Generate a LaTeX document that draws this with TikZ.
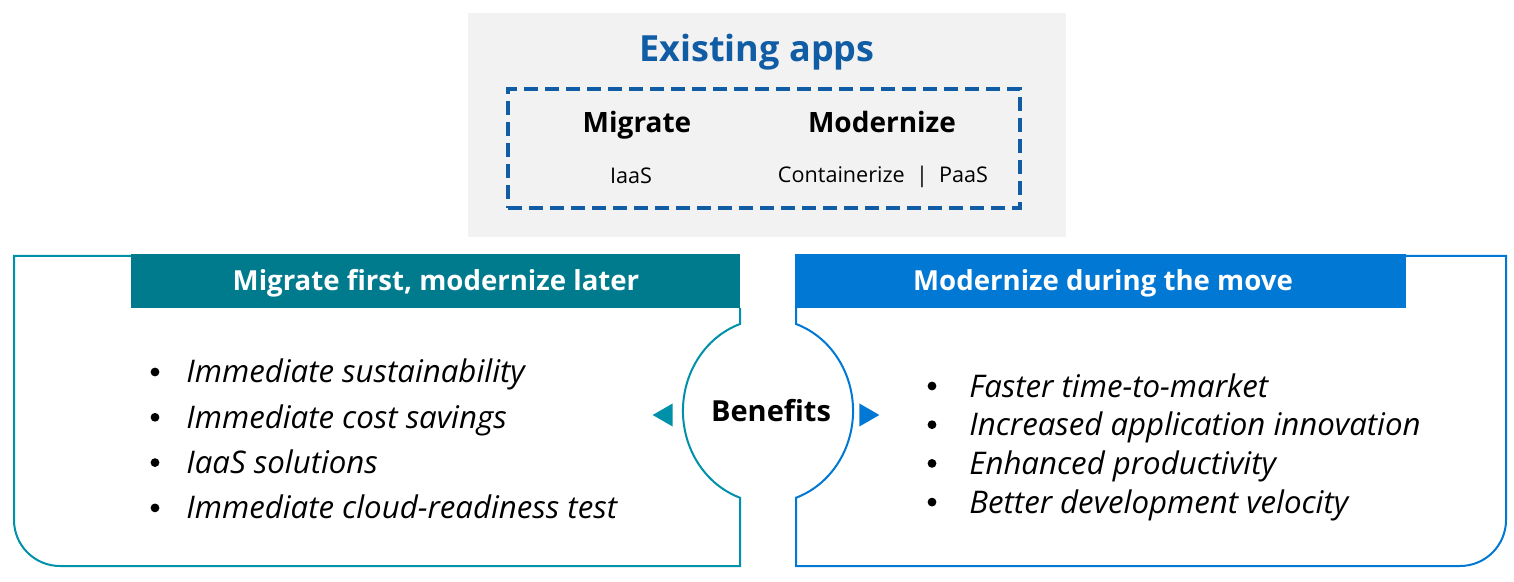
\documentclass[tikz,border=0pt]{standalone}
\usepackage{fontspec}
\setmainfont{Open Sans}
\usetikzlibrary{shapes.geometric}
\definecolor{titleblue}{RGB}{16,92,165}
\definecolor{boxgray}{RGB}{242,242,242}
\definecolor{tealline}{RGB}{0,145,170}
\definecolor{tealfill}{RGB}{0,123,142}
\definecolor{blueline}{RGB}{0,120,212}
\tikzset{
  panelline/.style={line width=1pt},
  headerbar/.style={inner sep=0pt, minimum height=27pt, fill=#1},
  headertext/.style={anchor=base, inner sep=0pt, text=white, font=\fontsize{13.8}{16}\selectfont\bfseries},
  bullettext/.style={anchor=base west, inner sep=0pt, font=\fontsize{15.6}{18}\selectfont\itshape},
  bulletdot/.style={circle, fill=black, inner sep=0pt, minimum size=4.4pt},
  tri/.style={isosceles triangle, isosceles triangle apex angle=60, inner sep=0pt, minimum height=10pt, minimum width=11.5pt, draw=none}
}
\begin{document}
\begin{tikzpicture}[x=0.5pt,y=-0.5pt]
\useasboundingbox (0,0) rectangle (1514,582);
% top box
\node[fill=boxgray, minimum width=299pt, minimum height=112pt, inner sep=0pt] (top) at (767,125) {};
\node[anchor=base, inner sep=0pt, text=titleblue, font=\fontsize{18}{20}\selectfont\bfseries] (title) at (757,62) {Existing apps};
\node[draw=titleblue, line width=1.65pt, dash pattern=on 7pt off 3.5pt, minimum width=256pt, minimum height=59.5pt, inner sep=0pt] (dbox) at (764,148.5) {};
\node[anchor=base, inner sep=0pt, font=\fontsize{14}{16}\selectfont\bfseries] (mig) at (637,133) {Migrate};
\node[anchor=base, inner sep=0pt, font=\fontsize{14}{16}\selectfont\bfseries] (mod) at (882,133) {Modernize};
\node[anchor=base, inner sep=0pt, font=\fontsize{10.8}{12}\selectfont] (iaas) at (631,184) {IaaS};
\node[anchor=base, inner sep=0pt, font=\fontsize{10.8}{12}\selectfont] (cont) at (883,183) {Containerize~~|~~PaaS};
% left panel
\draw[tealline, panelline] (740,308) -- (740,324)
  arc[start angle=250.8, end angle=109.2, x radius=85, y radius=92]
  -- (740,566) -- (60,566) arc[start angle=90, end angle=180, radius=46]
  -- (14,256) -- (131,256);
% right panel
\draw[blueline, panelline] (796,308) -- (796,324)
  arc[start angle=-70.8, end angle=70.8, x radius=85, y radius=92]
  -- (796,566) -- (1460,566) arc[start angle=90, end angle=0, radius=46]
  -- (1506,256) -- (1406,256);
% headers
\node[headerbar=tealfill, minimum width=304.5pt] (lhead) at (435.5,281) {};
\node[headertext] (lheadt) at (436,291) {Migrate first, modernize later};
\node[headerbar=blueline, minimum width=305.5pt] (rhead) at (1100.5,281) {};
\node[headertext] (rheadt) at (1103,291) {Modernize during the move};
% benefits
\node[anchor=base, inner sep=0pt, font=\fontsize{14.5}{16}\selectfont\bfseries] (ben) at (771,422) {Benefits};
\node[tri, fill=tealline, shape border rotate=180] (ltri) at (666,415) {};
\node[tri, fill=blueline] (rtri) at (866,415) {};
% left bullets
\foreach \t [count=\i] in {Immediate sustainability, Immediate cost savings, IaaS solutions, Immediate cloud-readiness test}{
  \node[bulletdot] (lb\i) at (155,{372+45.3*(\i-1)}) {};
  \node[bullettext] (lt\i) at (186,{383+45.3*(\i-1)}) {\t};
}
% right bullets
\foreach \t [count=\i] in {Faster time-to-market, Increased application innovation, Enhanced productivity, Better development velocity}{
  \node[bulletdot] (rb\i) at (932,{386+38.7*(\i-1)}) {};
  \node[bullettext] (rt\i) at (969,{397+38.7*(\i-1)}) {\t};
}
\end{tikzpicture}
\end{document}
